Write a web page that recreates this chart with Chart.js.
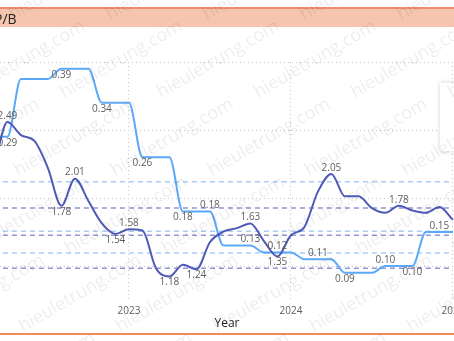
<!DOCTYPE html>
<html>
<head>
<meta charset="utf-8">
<script src="https://cdn.jsdelivr.net/npm/chart.js@4.4.1/dist/chart.umd.min.js"></script>
<style>
  body { margin: 0; background: #fff; font-family: "Open Sans", sans-serif; }
  #stage { position: relative; width: 454px; height: 341px; overflow: hidden; }
  #head { position: absolute; left: 0; top: 7px; width: 454px; height: 18px; background: #f6c5af; border-top: 2px solid #ee8d6b; }
  #head span { position: absolute; left: -6px; top: 0; line-height: 20px; font-size: 14px; color: #252423; }
  #foot { position: absolute; left: 0; top: 333px; width: 454px; height: 2px; background: #f3895c; }
  #tip { position: absolute; left: 440px; top: 83px; width: 40px; height: 68px; background: #fff; box-shadow: 0 0 5px rgba(0,0,0,0.18); }
  #marks { position: absolute; left: 0; top: 0; width: 454px; height: 341px; pointer-events: none; }
  #marks span { position: absolute; font-size: 18px; line-height: 18px; color: rgba(0,0,0,0.07); white-space: nowrap; transform: rotate(-30deg); transform-origin: 0 100%; }
  canvas { position: absolute; left: 0; top: 0; }
</style>
</head>
<body>
<div id="stage">
  <canvas id="pbChart" width="454" height="341"></canvas>
  <div id="head"><span>P/B</span></div>
  <div id="foot"></div>
  <div id="tip"></div>
  <div id="marks"></div>
</div>
<script>
// monthly points, Mar 2022 .. Jan 2025
const months = [
  "2022-03", "2022-04", "2022-05", "2022-06", "2022-07", "2022-08", "2022-09", "2022-10", "2022-11", "2022-12",
  "2023-01", "2023-02", "2023-03", "2023-04", "2023-05", "2023-06", "2023-07", "2023-08", "2023-09", "2023-10", "2023-11", "2023-12",
  "2024-01", "2024-02", "2024-03", "2024-04", "2024-05", "2024-06", "2024-07", "2024-08", "2024-09", "2024-10", "2024-11", "2024-12",
  "2025-01"
];
const pbValues = [
  2.10, 2.49, 2.38, 2.33, 2.10, 1.78, 2.01, 1.82, 1.63, 1.54,
  1.58, 1.57, 1.25, 1.18, 1.28, 1.24, 1.47, 1.56, 1.59, 1.63, 1.48, 1.35,
  1.53, 1.60, 1.90, 2.05, 1.86, 1.86, 1.76, 1.72, 1.78, 1.74, 1.72, 1.77,
  1.66
];
const altValues = [
  0.29, 0.29, 0.375, 0.375, 0.375, 0.39, 0.39, 0.39, 0.34, 0.34,
  0.34, 0.26, 0.26, 0.26, 0.18, 0.18, 0.18, 0.13, 0.13, 0.13, 0.12, 0.12,
  0.12, 0.11, 0.11, 0.11, 0.09, 0.09, 0.09, 0.10, 0.10, 0.10, 0.15, 0.15,
  0.15
];
// dashed reference levels for each series
const pbRefs = [1.76, 1.53, 1.25];
const altRefs = [0.224, 0.151, 0.119];
const gridValues = [0.1, 0.2, 0.3, 0.4];

// which points get a value label, and on which side
const pbLabelAt = {
  "2022-04": "above", "2022-08": "below", "2022-09": "above", "2022-12": "below",
  "2023-01": "above", "2023-04": "below", "2023-06": "below", "2023-10": "above",
  "2023-12": "below", "2024-04": "above", "2024-09": "above"
};
const altLabelAt = {
  "2022-04": "below", "2022-08": "below", "2022-11": "below", "2023-02": "below",
  "2023-05": "below", "2023-07": "above", "2023-10": "above", "2023-12": "above",
  "2024-03": "above", "2024-05": "below", "2024-08": "above", "2024-10": "below",
  "2024-12": "above"
};

const DARK = "#4f5ab8";
const LIGHT = "#5ba9f6";
const GRID = "#c8c6c4";

const toPoints = vals => vals.map((v, i) => ({ x: i, y: v }));
const flat = v => months.map((m, i) => ({ x: i, y: v }));
const yearIdx = months.map((m, i) => m.endsWith("-01") ? i : -1).filter(i => i >= 0);

const refSets = [
  ...pbRefs.map(v => ({ data: flat(v), yAxisID: "y", borderColor: "#9195d3", borderDash: [5, 4], borderWidth: 1.5, pointRadius: 0, order: 3 })),
  ...altRefs.map(v => ({ data: flat(v), yAxisID: "y1", borderColor: "#a9cdf7", borderDash: [5, 4], borderWidth: 1.5, pointRadius: 0, order: 3 }))
];

// value labels drawn next to the chosen points
const valueLabels = {
  id: "valueLabels",
  afterDatasetsDraw(chart) {
    const ctx = chart.ctx;
    ctx.save();
    ctx.font = '10px "Open Sans", sans-serif';
    ctx.fillStyle = "#605e5c";
    ctx.textAlign = "center";
    ctx.textBaseline = "middle";
    chart.data.datasets.forEach((ds, di) => {
      if (!ds.labelAt) return;
      const meta = chart.getDatasetMeta(di);
      Object.entries(ds.labelAt).forEach(([key, side]) => {
        const i = months.indexOf(key);
        const pt = meta.data[i];
        ctx.fillText(ds.data[i].y.toFixed(2), pt.x, pt.y + (side === "above" ? -6 : 6));
      });
    });
    ctx.restore();
  }
};

new Chart(document.getElementById("pbChart"), {
  type: "line",
  data: {
    datasets: [
      { label: "P/B", data: toPoints(pbValues), yAxisID: "y", borderColor: DARK, borderWidth: 2, pointRadius: 0, cubicInterpolationMode: "monotone", labelAt: pbLabelAt, order: 1 },
      { label: "P/B 2", data: toPoints(altValues), yAxisID: "y1", borderColor: LIGHT, borderWidth: 2, pointRadius: 0, cubicInterpolationMode: "monotone", labelAt: altLabelAt, order: 2 },
      ...refSets
    ]
  },
  options: {
    responsive: false,
    animation: false,
    layout: { padding: { top: 62, bottom: 10, left: 0, right: 0 } },
    plugins: { legend: { display: false }, tooltip: { enabled: false } },
    scales: {
      x: {
        type: "linear",
        min: 0.45,
        max: 34.08,
        afterBuildTicks: s => { s.ticks = yearIdx.map(v => ({ value: v })); },
        afterFit: s => { s.height = 31; s.paddingLeft = 0; s.paddingRight = 0; },
        ticks: { padding: 5, color: "#605e5c", font: { size: 10, family: "Open Sans" }, maxRotation: 0, autoSkip: false,
                 callback: v => months[v].slice(0, 4) },
        grid: { color: GRID, borderDash: [1, 3], drawTicks: false },
        border: { display: false, dash: [1, 3] },
        title: { display: true, text: "Year", color: "#252423", font: { size: 12, family: "Open Sans" }, padding: { top: 0, bottom: 0 } }
      },
      y: { display: false, min: 0.98, max: 3.0 },
      y1: {
        position: "right",
        min: 0.05,
        max: 0.4,
        afterBuildTicks: s => { s.ticks = gridValues.map(v => ({ value: v })); },
        ticks: { display: false },
        grid: { color: GRID, drawTicks: false },
        border: { display: false, dash: [1, 3] }
      }
    }
  },
  plugins: [valueLabels]
});

// faint site watermark tiled over the page
const marks = document.getElementById("marks");
for (let j = -1; j < 6; j++) {
  for (let i = -2; i < 7; i++) {
    const x = 14 + 97 * i + ((51 * j) % 97);
    const y = 22 + 78 * j;
    const s = document.createElement("span");
    s.textContent = "hieuletrung.com";
    s.style.left = x + "px";
    s.style.top = (y - 18) + "px";
    marks.appendChild(s);
  }
}
</script>
</body>
</html>
